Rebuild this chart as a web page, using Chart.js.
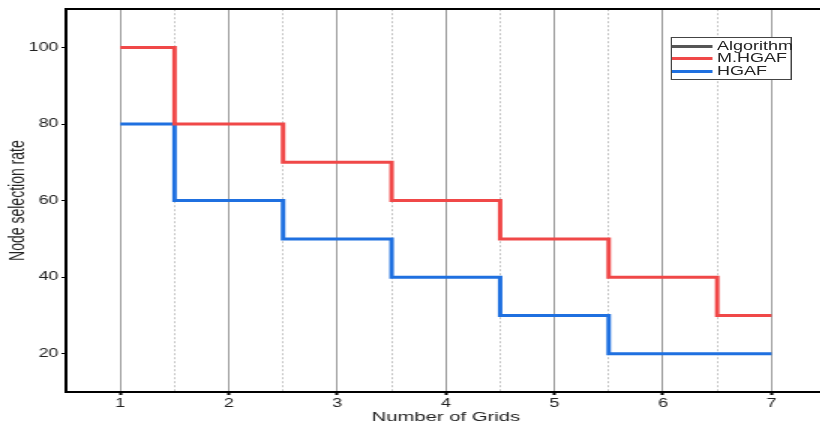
<!DOCTYPE html>
<html>
<head>
<meta charset="utf-8">
<script src="https://cdn.jsdelivr.net/npm/chart.js@4/dist/chart.umd.min.js"></script>
<style>
    html, body { margin: 0; padding: 0; background: #fff; overflow: hidden; }
    /* the source figure is stretched sideways, so draw narrow and widen it */
    #stage { position: relative; width: 552px; height: 430px; transform: scaleX(1.5); transform-origin: 0 0; }
    #legend {
        position: absolute; left: 447px; top: 37px; width: 79px; height: 41px;
        border: 1px solid #444; background: #fff;
        font: 12px "Liberation Sans", Arial, sans-serif; color: #222;
    }
    #legend .row { position: absolute; left: 0; height: 13px; line-height: 13px; white-space: nowrap; }
    #legend .swatch { display: inline-block; width: 27px; height: 3px; vertical-align: middle; margin-right: 3px; }
</style>
</head>
<body>
<div id="stage">
    <canvas id="chart"></canvas>
    <div id="legend"></div>
</div>
<script>
const grids = [1, 2, 3, 4, 5, 6, 7];
const mhgaf = [100, 80, 70, 60, 50, 40, 30];
const hgaf = [80, 60, 50, 40, 30, 20, 20];
const xTicks = [1, 1.5, 2, 2.5, 3, 3.5, 4, 4.5, 5, 5.5, 6, 6.5, 7];
const yTicks = [20, 40, 60, 80, 100];

const legendItems = [
    { label: 'Algorithm', color: '#555555' },
    { label: 'M.HGAF', color: '#f04848' },
    { label: 'HGAF', color: '#1f70e0' },
];

const points = (values) => grids.map((g, i) => ({ x: g, y: values[i] }));
const isWhole = (v) => Math.abs(v - Math.round(v)) < 1e-6;
const font = (size) => ({ family: '"Liberation Sans", Arial, sans-serif', size });

new Chart(document.getElementById('chart'), {
    type: 'line',
    data: {
        datasets: [
            {
                label: 'M.HGAF',
                data: points(mhgaf),
                borderColor: legendItems[1].color,
                borderWidth: 3,
                stepped: 'middle',
                pointRadius: 0,
            },
            {
                label: 'HGAF',
                data: points(hgaf),
                borderColor: legendItems[2].color,
                borderWidth: 3,
                stepped: 'middle',
                pointRadius: 0,
            },
        ],
    },
    options: {
        responsive: true,
        maintainAspectRatio: false,
        animation: false,
        layout: { padding: { top: 7, left: 0, right: 0, bottom: 0 } },
        plugins: { legend: { display: false }, tooltip: { enabled: false } },
        scales: {
            x: {
                type: 'linear',
                min: 0.5,
                max: 7.5,
                afterBuildTicks: (scale) => { scale.ticks = xTicks.map((v) => ({ value: v })); },
                afterFit: (scale) => { scale.height = 38; },
                grid: {
                    color: (ctx) => (ctx.tick ? (isWhole(ctx.tick.value) ? '#9a9a9a' : '#c4c4c4') : 'transparent'),
                    lineWidth: 1,
                    tickLength: 3,
                    tickWidth: 2,
                    tickColor: (ctx) => (ctx.tick && isWhole(ctx.tick.value) ? '#000' : 'transparent'),
                },
                border: {
                    color: '#000',
                    width: 2,
                    dash: (ctx) => (ctx.tick && !isWhole(ctx.tick.value) ? [2, 2] : []),
                },
                ticks: {
                    color: '#222',
                    font: font(12),
                    padding: 1,
                    maxRotation: 0,
                    autoSkip: false,
                    callback: (v) => (isWhole(v) ? String(v) : ''),
                },
                title: {
                    display: true,
                    text: 'Number of Grids',
                    color: '#222',
                    font: font(13.5),
                    padding: { top: 0, bottom: 5 },
                },
            },
            xTop: {
                type: 'linear',
                position: 'top',
                min: 0.5,
                max: 7.5,
                afterFit: (scale) => { scale.height = 0; },
                grid: { drawOnChartArea: false, drawTicks: false },
                border: { color: '#000', width: 2 },
                ticks: { display: false },
            },
            y: {
                min: 10,
                max: 110,
                afterBuildTicks: (scale) => { scale.ticks = yTicks.map((v) => ({ value: v })); },
                afterFit: (scale) => { scale.width = 44; },
                grid: { drawOnChartArea: false, tickLength: 3, tickColor: '#000', tickWidth: 1 },
                border: { color: '#000', width: 2 },
                ticks: { color: '#222', font: font(12), padding: 2 },
                title: {
                    display: true,
                    text: 'Node selection rate',
                    color: '#222',
                    font: font(14),
                    padding: { top: 4, bottom: 0 },
                },
            },
        },
    },
});

const legend = document.getElementById('legend');
const rowTops = [2, 14, 27];
legendItems.forEach((item, i) => {
    const row = document.createElement('div');
    row.className = 'row';
    row.style.top = `${rowTops[i]}px`;
    const swatch = document.createElement('span');
    swatch.className = 'swatch';
    swatch.style.background = item.color;
    row.appendChild(swatch);
    row.appendChild(document.createTextNode(item.label));
    legend.appendChild(row);
});
</script>
</body>
</html>
